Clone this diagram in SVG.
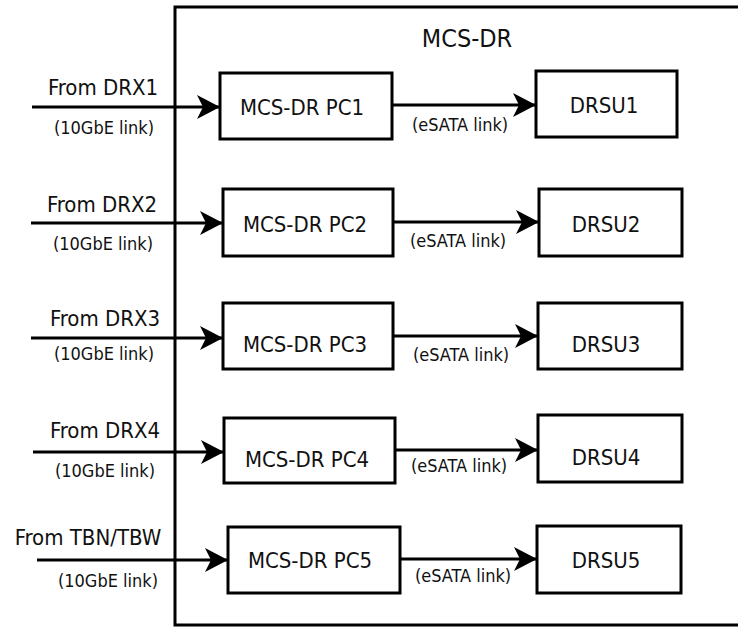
<svg xmlns="http://www.w3.org/2000/svg" width="738" height="627" viewBox="0 0 738 627">
<defs>
<style>
.t{font-family:"DejaVu Sans Condensed","DejaVu Sans","Liberation Sans",sans-serif;fill:#111;text-anchor:middle}
.m{font-size:22px}
.s{font-size:18px}
.h{font-size:25px}
.box{fill:#fff;stroke:#000;stroke-width:3}
.c{stroke:#000;stroke-width:3;fill:none;marker-end:url(#ah)}
</style>
<marker id="ah" markerUnits="userSpaceOnUse" markerWidth="24" markerHeight="24" refX="23" refY="12" orient="auto" viewBox="0 0 24 24">
<path d="M0,0 L23,12 L0,24 L6,12 Z" fill="#000"/>
</marker>
</defs>
<rect id="mcs-dr" x="175" y="7" width="600" height="618" fill="#fff" stroke="#000" stroke-width="3"/>
<text class="t h" x="467" y="47">MCS-DR</text>
<g id="connectors">
<path class="c" d="M32,107 H220"/>
<path class="c" d="M31,223 H223"/>
<path class="c" d="M31,338 H223"/>
<path class="c" d="M33,452 H224"/>
<path class="c" d="M37,560 H228"/>
<path class="c" d="M392,105 H536"/>
<path class="c" d="M393,222 H539"/>
<path class="c" d="M393,336 H538"/>
<path class="c" d="M395,450 H538"/>
<path class="c" d="M400,559 H537"/>
</g>
<g id="labels">
<text class="t m" x="103" y="95">From DRX1</text>
<text class="t s" x="104" y="134">(10GbE link)</text>
<text class="t m" x="102" y="212">From DRX2</text>
<text class="t s" x="103" y="250">(10GbE link)</text>
<text class="t m" x="105" y="326">From DRX3</text>
<text class="t s" x="104" y="360">(10GbE link)</text>
<text class="t m" x="105" y="438">From DRX4</text>
<text class="t s" x="105" y="477">(10GbE link)</text>
<text class="t m" x="88" y="545">From TBN/TBW</text>
<text class="t s" x="108" y="587">(10GbE link)</text>
<text class="t s" x="460" y="131">(eSATA link)</text>
<text class="t s" x="458" y="247">(eSATA link)</text>
<text class="t s" x="461" y="361">(eSATA link)</text>
<text class="t s" x="459" y="472">(eSATA link)</text>
<text class="t s" x="463" y="582">(eSATA link)</text>
</g>
<g id="pc1"><rect class="box" x="220" y="73" width="172" height="66"/><text class="t m" x="302" y="115">MCS-DR PC1</text></g>
<g id="pc2"><rect class="box" x="223" y="189" width="170" height="67"/><text class="t m" x="305" y="232">MCS-DR PC2</text></g>
<g id="pc3"><rect class="box" x="223" y="303" width="170" height="66"/><text class="t m" x="305" y="352">MCS-DR PC3</text></g>
<g id="pc4"><rect class="box" x="224" y="418" width="171" height="65"/><text class="t m" x="307" y="467">MCS-DR PC4</text></g>
<g id="pc5"><rect class="box" x="228" y="527" width="172" height="66"/><text class="t m" x="310" y="568">MCS-DR PC5</text></g>
<g id="drsu1"><rect class="box" x="536" y="71" width="141" height="66"/><text class="t m" x="604" y="113">DRSU1</text></g>
<g id="drsu2"><rect class="box" x="539" y="189" width="143" height="67"/><text class="t m" x="606" y="232">DRSU2</text></g>
<g id="drsu3"><rect class="box" x="538" y="303" width="144" height="66"/><text class="t m" x="606" y="352">DRSU3</text></g>
<g id="drsu4"><rect class="box" x="538" y="415" width="144" height="67"/><text class="t m" x="606" y="465">DRSU4</text></g>
<g id="drsu5"><rect class="box" x="537" y="526" width="144" height="67"/><text class="t m" x="606" y="568">DRSU5</text></g>
</svg>
